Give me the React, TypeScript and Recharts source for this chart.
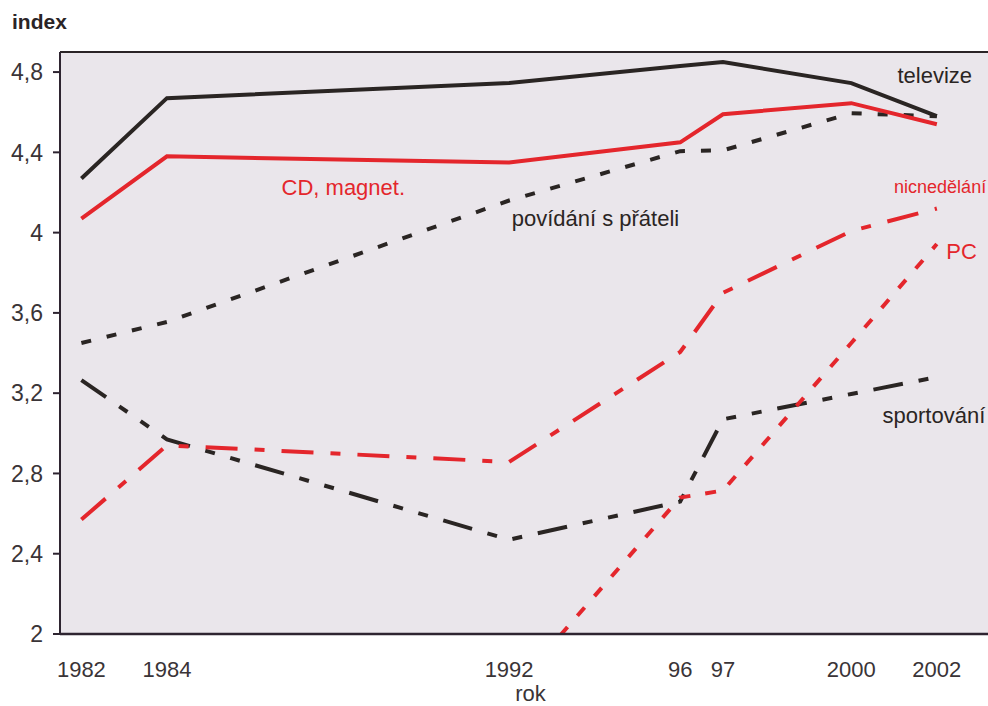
import React from 'react';
import {
  LineChart, Line, XAxis, YAxis, CartesianGrid, ReferenceLine, ReferenceDot, Label, Customized,
} from 'recharts';

const years = [1982, 1984, 1992, 1996, 1997, 2000, 2002];
const televize = [4.27, 4.67, 4.745, 4.83, 4.85, 4.745, 4.58];
const cdMagnet = [4.07, 4.38, 4.35, 4.45, 4.59, 4.645, 4.54];
const povidani = [3.45, 3.555, 4.16, 4.406, 4.41, 4.595, 4.58];
const nicnedelani = [2.57, 2.94, 2.857, 3.405, 3.7, 4.008, 4.12];
const pc = [null, null, 1.7, 2.68, 2.715, 3.45, 3.943];
const sportovani = [3.265, 2.97, 2.47, 2.66, 3.07, 3.196, 3.28];

const yTicks = [2, 2.4, 2.8, 3.2, 3.6, 4, 4.4, 4.8];
const labelYears = [1982, 1984, 1992, 1996, 1997, 2000, 2002];
const yearLabels: Record<number, string> = {
  1982: '1982', 1984: '1984', 1992: '1992', 1996: '96', 1997: '97', 2000: '2000', 2002: '2002',
};
const yearBoundaries = Array.from({ length: 23 }, (_, i) => 1981.5 + i);

const data = years.map((year, i) => ({
  year,
  televize: televize[i],
  cd: cdMagnet[i],
  povidani: povidani[i],
  nic: nicnedelani[i],
  pc: pc[i],
  sport: sportovani[i],
}));

const RED = '#e4262c';
const BLACK = '#2a2523';
const TXT = '#3a3437';

const annotations = [
  { text: 'televize', x: 2001.08, y: 4.785, color: BLACK, size: 22 },
  { text: 'CD, magnet.', x: 1986.68, y: 4.225, color: RED, size: 22 },
  { text: 'povídání s přáteli', x: 1992.06, y: 4.073, color: BLACK, size: 22 },
  { text: 'nicnedělání', x: 2001.0, y: 4.227, color: RED, size: 18 },
  { text: 'PC', x: 2002.22, y: 3.908, color: RED, size: 22 },
  { text: 'sportování', x: 2000.73, y: 3.09, color: BLACK, size: 22 },
];

const fmtY = (v: number) => (Number.isInteger(v) ? String(v) : v.toFixed(1).replace('.', ','));

export default function App() {
  return (
    <div style={{ position: 'fixed', left: 0, top: 0, width: 988, height: 706, overflow: 'hidden', background: '#fff' }}>
      <LineChart
        width={1011}
        height={706}
        data={data}
        margin={{ top: 52, right: 10, bottom: 0, left: 0 }}
        style={{ fontFamily: '"Liberation Sans", Arial, sans-serif' }}
      >
        <CartesianGrid horizontal={false} vertical={false} fill="#eae6eb" />
        <XAxis
          dataKey="year"
          type="number"
          domain={[1981.5, 2003.5]}
          ticks={yearBoundaries}
          tick={false}
          tickSize={7}
          height={10}
          axisLine={{ stroke: '#2e2430', strokeWidth: 2.5 }}
          tickLine={{ stroke: '#2e2430', strokeWidth: 2 }}
        />
        <XAxis
          xAxisId="lab"
          dataKey="year"
          type="number"
          domain={[1981.5, 2003.5]}
          ticks={labelYears}
          tickFormatter={(v: number) => yearLabels[v] ?? ''}
          axisLine={false}
          tickLine={false}
          tickSize={0}
          tickMargin={17}
          height={62}
          tick={{ fill: TXT, fontSize: 22 }}
          interval={0}
        >
          <Label value="rok" position="insideBottom" offset={5} fill={TXT} fontSize={22} />
        </XAxis>
        <YAxis
          type="number"
          domain={[2, 4.9]}
          ticks={yTicks}
          allowDataOverflow
          width={60}
          tickSize={7}
          tickMargin={10}
          tickFormatter={fmtY}
          tick={{ fill: TXT, fontSize: 23 }}
          axisLine={{ stroke: '#2e2430', strokeWidth: 2 }}
          tickLine={{ stroke: '#2e2430', strokeWidth: 2 }}
          interval={0}
        />
        <ReferenceLine y={4.9} stroke="#2a2426" strokeWidth={2} />
        <Line dataKey="povidani" stroke={BLACK} strokeWidth={4} strokeDasharray="10 16" dot={false} isAnimationActive={false} strokeLinejoin="miter" />
        <Line dataKey="sport" stroke={BLACK} strokeWidth={4} strokeDasharray="30 16 10 16 10 16" dot={false} isAnimationActive={false} strokeLinejoin="miter" />
        <Line dataKey="televize" stroke={BLACK} strokeWidth={4} dot={false} isAnimationActive={false} strokeLinejoin="miter" />
        <Line dataKey="pc" stroke={RED} strokeWidth={4} strokeDasharray="11 15" dot={false} connectNulls isAnimationActive={false} strokeLinejoin="miter" />
        <Line dataKey="nic" stroke={RED} strokeWidth={4} strokeDasharray="32 17 10 17" dot={false} isAnimationActive={false} strokeLinejoin="miter" />
        <Line dataKey="cd" stroke={RED} strokeWidth={4} dot={false} isAnimationActive={false} strokeLinejoin="miter" />
        {annotations.map((a) => (
          <ReferenceDot
            key={a.text}
            x={a.x}
            y={a.y}
            r={0}
            fill="none"
            stroke="none"
            label={{ value: a.text, position: 'right', offset: 0, fill: a.color, fontSize: a.size }}
          />
        ))}
        <Customized
          component={() => (
            <text x={12} y={29} fontSize={21} fontWeight="bold" fill="#2a2426">index</text>
          )}
        />
      </LineChart>
    </div>
  );
}
